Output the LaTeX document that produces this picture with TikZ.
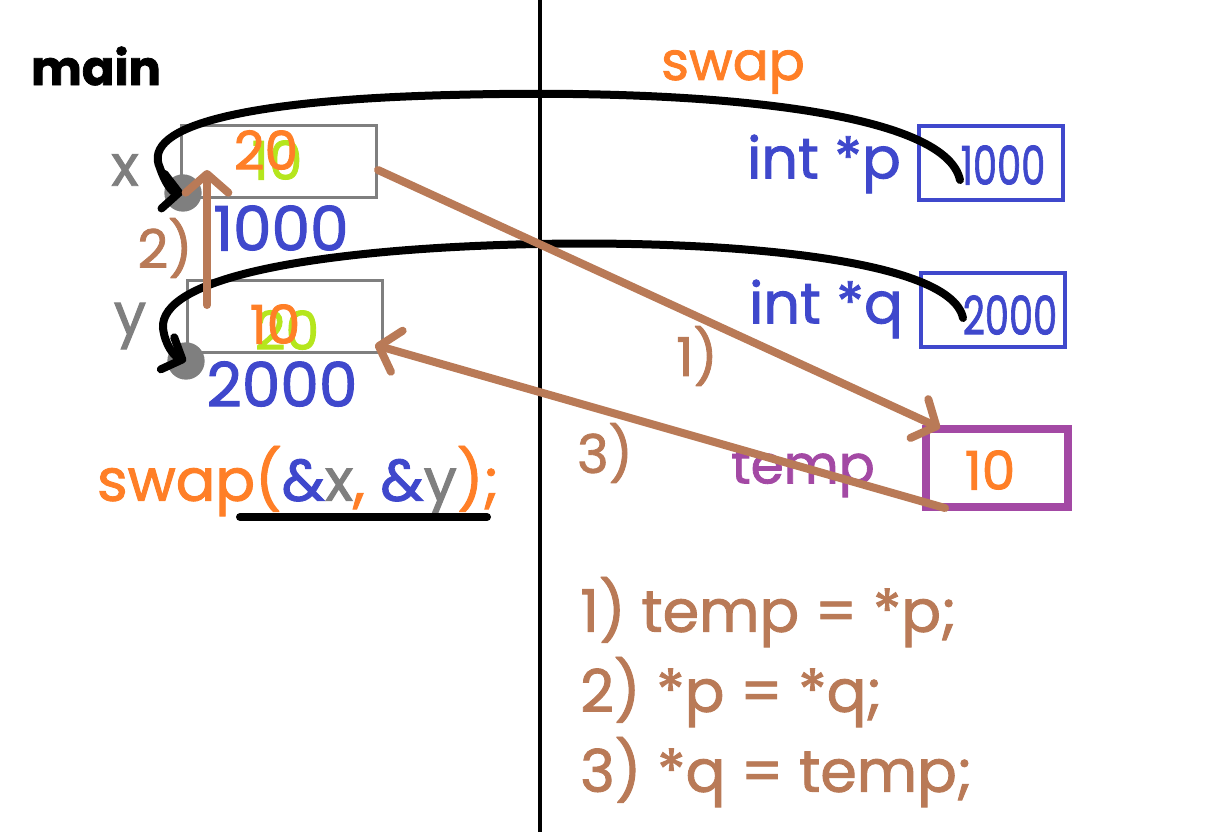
\documentclass[tikz,border=0pt]{standalone}
\usepackage{fontspec}
\setmainfont{Poppins}[FakeBold=1.6]
\usetikzlibrary{arrows.meta}
\definecolor{pgray}{RGB}{127,127,127}
\definecolor{pblue}{RGB}{63,72,204}
\definecolor{porange}{RGB}{255,127,39}
\definecolor{plime}{RGB}{181,230,29}
\definecolor{pbrown}{RGB}{185,122,87}
\definecolor{ppurple}{RGB}{163,73,164}
\newcommand{\fsz}[1]{\fontsize{#1}{#1}\selectfont}

\begin{document}
\begin{tikzpicture}[x=0.75pt,y=0.75pt,yscale=-1,xscale=1,
  membox/.style={draw=pgray,line width=2.25pt,minimum width=146pt,minimum height=54pt,inner sep=0pt},
  ptrbox/.style={draw=pblue,line width=3pt,minimum width=108pt,minimum height=55pt,inner sep=0pt},
  txt/.style={inner sep=0pt,font=\fsz{43pt}},
  brownarrow/.style={draw=pbrown,line width=6pt,line cap=round,-{Straight Barb[length=14pt,width=32pt,round]}},
  blackarrow/.style={draw=black,line width=6pt,line cap=round,-{Straight Barb[length=12pt,width=26pt,round]}}]
\useasboundingbox (0,0) rectangle (1208,832);

% divider
\draw[line width=3pt] (540,0) -- (540,832);

% main side
\node[txt,font=\fsz{36pt}\bfseries] (main) at (96,66) {main};
\node[membox] (boxX) at (279,161) {};
\node[membox] (boxY) at (285,316) {};
\node[txt,text=pgray] (lblX) at (125,170) {x};
\node[txt,text=pgray] (lblY) at (130,326) {y};
\node[circle,fill=pgray,minimum size=28pt,inner sep=0pt] (dotX) at (183,193) {};
\node[circle,fill=pgray,minimum size=28pt,inner sep=0pt] (dotY) at (186,361) {};
\node[txt,text=pblue,font=\fsz{46pt}] (addrX) at (281,228) {1000};
\node[txt,text=pblue,font=\fsz{46pt}] (addrY) at (282,384) {2000};
% old and new values
\node[txt,text=plime,font=\fsz{40pt}] (oldX) at (277,160) {10};
\node[txt,text=porange,font=\fsz{40pt}] (newX) at (266,150) {20};
\node[txt,text=plime,font=\fsz{40pt}] (oldY) at (287,330) {20};
\node[txt,text=porange,font=\fsz{40pt}] (newY) at (275,324) {10};

% call
\node[txt,font=\fsz{44pt}] (call) at (298,481) {\textcolor{porange}{swap(}\textcolor{pblue}{\&}\textcolor{pgray}{x}\textcolor{porange}{,} \textcolor{pblue}{\&}\textcolor{pgray}{y}\textcolor{porange}{);}};
\draw[line width=6pt,line cap=round] (240,517) -- (487,517);

% swap side
\node[txt,text=porange,font=\fsz{40pt}] (swapT) at (733,72) {swap};
\node[txt,text=pblue] (declP) at (824,164) {int *p};
\node[txt,text=pblue] (declQ) at (826,309) {int *q};
\node[ptrbox] (boxP) at (991,163) {};
\node[ptrbox] (boxQ) at (993,310) {};
\node[txt,text=pblue,font=\fsz{40pt},xscale=0.72] (valP) at (1003,165) {1000};
\node[txt,text=pblue,font=\fsz{40pt},xscale=0.72] (valQ) at (1010,315) {2000};
\node[txt,text=ppurple,font=\fsz{40pt}] (tempT) at (803,472) {temp};
\node[draw=ppurple,line width=6pt,minimum width=106pt,minimum height=59pt,inner sep=0pt] (boxT) at (997,468) {};
\node[txt,text=porange,font=\fsz{40pt}] (valT) at (990,470) {10};

% pointer curves
\coordinate (pStart) at (960,180);
\coordinate (qStart) at (963,318);
\draw[blackarrow] (pStart) .. controls (945,110) and (700,88) .. (450,95) .. controls (250,100) and (140,125) .. (160,168) .. controls (165,183) and (172,192) .. (dotX.center);
\draw[blackarrow] (qStart) .. controls (950,255) and (700,238) .. (500,245) .. controls (300,252) and (160,280) .. (163,328) .. controls (165,345) and (174,356) .. (dotY.center);

% steps
\coordinate (s1a) at (378,170);
\coordinate (s1b) at (940,428);
\coordinate (s2a) at (207,305);
\coordinate (s2b) at (207,170);
\coordinate (s3a) at (945,508);
\coordinate (s3b) at (375,345);
\draw[brownarrow] (s1a) -- (s1b);
\draw[brownarrow] (s2a) -- (s2b);
\draw[brownarrow] (s3a) -- (s3b);
\node[txt,text=pbrown,font=\fsz{40pt}] (step1) at (697,356) {1)};
\node[txt,text=pbrown,font=\fsz{40pt}] (step2) at (165,248) {2)};
\node[txt,text=pbrown,font=\fsz{40pt}] (step3) at (605,453) {3)};

% code
\node[txt,text=pbrown,anchor=west,font=\fsz{44pt}] (code1) at (580,612) {1) temp = *p;};
\node[txt,text=pbrown,anchor=west,font=\fsz{44pt}] (code2) at (580,692) {2) *p = *q;};
\node[txt,text=pbrown,anchor=west,font=\fsz{44pt}] (code3) at (580,772) {3) *q = temp;};
\end{tikzpicture}
\end{document}
